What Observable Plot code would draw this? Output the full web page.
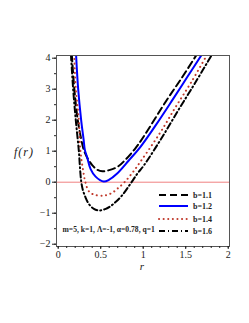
<!DOCTYPE html>
<html><head><meta charset="utf-8">
<script src="https://cdn.jsdelivr.net/npm/d3@7"></script>
<script src="https://cdn.jsdelivr.net/npm/@observablehq/plot@0.6"></script>
<style>body{margin:0;background:#fff}#chart svg{display:block}</style>
</head><body><div id="chart"></div>
<script>
// Series labels
const bLabels = ["b=1.1", "b=1.2", "b=1.4", "b=1.6"];
// b=1.1 (black dashed)
const r11 = [0.16, 0.19, 0.23, 0.27, 0.30, 0.34, 0.40, 0.46, 0.52, 0.60, 0.70, 0.80, 0.91, 1.00, 1.27, 1.45, 1.63];
const f11 = [4.12, 3.0, 2.0, 1.4, 1.05, 0.80, 0.55, 0.40, 0.35, 0.39, 0.50, 0.75, 1.10, 1.45, 2.62, 3.35, 4.12];
// b=1.2 (blue solid)
const r12 = [0.21, 0.235, 0.27, 0.30, 0.313, 0.34, 0.38, 0.44, 0.536, 0.60, 0.69, 0.83, 0.97, 1.15, 1.35, 1.52, 1.69];
const f12 = [4.12, 3.0, 2.0, 1.35, 1.05, 0.81, 0.43, 0.18, 0.02, 0.08, 0.27, 0.70, 1.15, 1.85, 2.68, 3.4, 4.12];
// b=1.4 (red dotted)
const r14 = [0.188, 0.207, 0.243, 0.262, 0.30, 0.32, 0.36, 0.42, 0.54, 0.63, 0.70, 0.78, 0.88, 0.99, 1.20, 1.38, 1.57, 1.753];
const f14 = [4.12, 3.0, 2.0, 1.0, 0.27, 0.0, -0.29, -0.40, -0.43, -0.35, -0.20, 0.0, 0.33, 0.75, 1.6, 2.42, 3.25, 4.12];
// b=1.6 (black dash-dot)
const r16 = [0.15, 0.176, 0.207, 0.243, 0.258, 0.272, 0.29, 0.32, 0.36, 0.42, 0.48, 0.56, 0.65, 0.75, 0.85, 0.93, 1.007, 1.20, 1.41, 1.61, 1.81];
const f16 = [4.12, 3.0, 2.0, 1.0, 0.4, 0.0, -0.25, -0.48, -0.70, -0.86, -0.91, -0.86, -0.70, -0.43, -0.05, 0.27, 0.54, 1.35, 2.31, 3.2, 4.12];
// Ticks
const xTicks = [0, 0.5, 1, 1.5, 2];
const xTickLabels = ["0", "0.5", "1", "1.5", "2"];
const xMinor = d3.range(0, 2.001, 0.1).map(v => +v.toFixed(2));
const yTicks = [-2, -1, 0, 1, 2, 3, 4];
const yTickLabels = ["\u22122", "\u22121", "0", "1", "2", "3", "4"];
const yMinor = d3.range(-2, 4.001, 0.5);
const annotation = "m=5, k=1, \u039B=-1, \u03B1=0.78, q=1";

const toRows = (rs, fs) => rs.map((r, i) => ({r, f: fs[i]}));
const styles = [
  {stroke: "#000", strokeWidth: 2, strokeDasharray: "7,4"},
  {stroke: "#0000ff", strokeWidth: 2},
  {stroke: "#c0392b", strokeWidth: 2, strokeDasharray: "0.1,4.5", strokeLinecap: "round"},
  {stroke: "#000", strokeWidth: 2, strokeDasharray: "6,3,1,3"}
];
const data = [toRows(r11, f11), toRows(r12, f12), toRows(r14, f14), toRows(r16, f16)];

const chart = Plot.plot({
  width: 249, height: 323,
  marginTop: 55, marginBottom: 77, marginLeft: 56, marginRight: 20,
  x: {domain: [-0.02, 2.015]},
  y: {domain: [-2.074, 4.087]},
  style: {fontFamily: "Liberation Serif", fontSize: "10px", background: "#fff", color: "#222"},
  marks: [
    Plot.ruleY([0], {stroke: "#f08080", strokeWidth: 1}),
    ...data.map((d, i) => Plot.line(d, {x: "r", y: "f", curve: "catmull-rom", clip: true, ...styles[i]})),
    Plot.frame({stroke: "#555"}),
    Plot.axisX(xTicks, {tickSize: 3, tickPadding: 1, label: null, tickFormat: (d) => xTickLabels[xTicks.indexOf(d)]}),
    Plot.axisX(xMinor, {tickSize: 2, label: null, tickFormat: () => ""}),
    Plot.axisY(yTicks, {tickSize: 4, tickPadding: 2, label: null, tickFormat: (d) => yTickLabels[yTicks.indexOf(d)]}),
    Plot.axisY(yMinor, {tickSize: 2, label: null, tickFormat: () => ""})
  ]
});

const svg = d3.select(chart);
// axis titles
svg.append("text").attr("x", 24).attr("y", 155.5).attr("text-anchor", "middle")
  .style("font-family", "Liberation Serif").style("font-style", "italic").style("font-size", "12px")
  .style("letter-spacing", "1px")
  .text("f(r)");
svg.append("text").attr("x", 142).attr("y", 270).attr("text-anchor", "middle")
  .style("font-family", "Liberation Serif").style("font-style", "italic").style("font-size", "11px")
  .text("r");
// annotation
svg.append("text").attr("x", 62.5).attr("y", 231.5).attr("text-anchor", "start")
  .style("font-family", "Liberation Serif").style("font-weight", "bold").style("font-size", "7.6px")
  .text(annotation);
// legend
const legY = [195, 206, 219, 231];
bLabels.forEach((lab, i) => {
  const st = styles[i];
  const ln = svg.append("line").attr("x1", 159).attr("x2", 188).attr("y1", legY[i]).attr("y2", legY[i])
    .attr("stroke", st.stroke).attr("stroke-width", st.strokeWidth);
  if (st.strokeDasharray) ln.attr("stroke-dasharray", st.strokeDasharray);
  if (st.strokeLinecap) ln.attr("stroke-linecap", st.strokeLinecap);
  svg.append("text").attr("x", 193).attr("y", legY[i]).attr("dy", "0.35em").attr("text-anchor", "start")
    .style("font-family", "Liberation Serif").style("font-weight", "bold").style("font-size", "8px")
    .text(lab);
});
document.getElementById("chart").append(chart);
</script>
</body></html>
